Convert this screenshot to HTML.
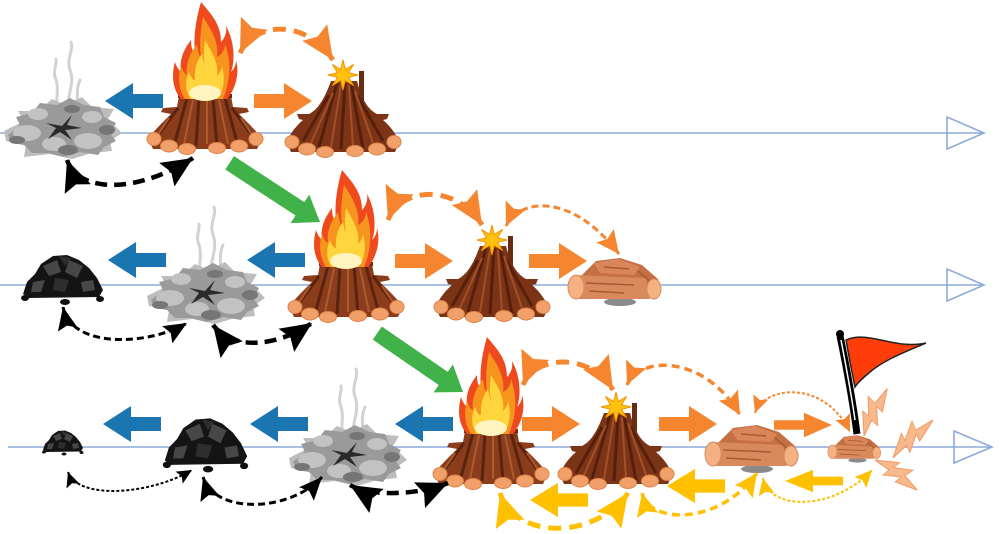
<!DOCTYPE html>
<html>
<head>
<meta charset="utf-8">
<style>
html,body{margin:0;padding:0;background:#fff;}
svg{display:block;}
</style>
</head>
<body>
<svg width="1000" height="534" viewBox="0 0 1000 534" xmlns="http://www.w3.org/2000/svg">
<defs>
  <path id="barrow" d="M0,0 L-28,-18 L-28,-7 L-58,-7 L-58,7 L-28,7 L-28,18 Z"/>
  <polygon id="bolt" points="0,0 20,-8 18,-3 34,-9 31,-3 48,0 27,4 29,-1 14,5 16,0"/>

  <marker id="mkL" markerUnits="userSpaceOnUse" markerWidth="32" markerHeight="28" viewBox="0 0 32 28" refX="31" refY="14" orient="auto-start-reverse">
    <path d="M0,0 L31,14 L0,28 L5,14 Z" fill="#000"/>
  </marker>
  <marker id="mkM" markerUnits="userSpaceOnUse" markerWidth="24" markerHeight="20" viewBox="0 0 24 20" refX="23" refY="10" orient="auto-start-reverse">
    <path d="M0,0 L23,10 L0,20 L4,10 Z" fill="#000"/>
  </marker>
  <marker id="mkS" markerUnits="userSpaceOnUse" markerWidth="16" markerHeight="14" viewBox="0 0 16 14" refX="15" refY="7" orient="auto-start-reverse">
    <path d="M0,0 L15,7 L0,14 L3,7 Z" fill="#000"/>
  </marker>
  <marker id="moL" markerUnits="userSpaceOnUse" markerWidth="34" markerHeight="30" viewBox="0 0 34 30" refX="33" refY="15" orient="auto-start-reverse">
    <path d="M0,0 L33,15 L0,30 L5,15 Z" fill="#f5862f"/>
  </marker>
  <marker id="moM" markerUnits="userSpaceOnUse" markerWidth="24" markerHeight="22" viewBox="0 0 24 22" refX="23" refY="11" orient="auto-start-reverse">
    <path d="M0,0 L23,11 L0,22 L4,11 Z" fill="#f5862f"/>
  </marker>
  <marker id="moS" markerUnits="userSpaceOnUse" markerWidth="18" markerHeight="16" viewBox="0 0 18 16" refX="17" refY="8" orient="auto-start-reverse">
    <path d="M0,0 L17,8 L0,16 L3,8 Z" fill="#f5862f"/>
  </marker>
  <marker id="myL" markerUnits="userSpaceOnUse" markerWidth="34" markerHeight="30" viewBox="0 0 34 30" refX="33" refY="15" orient="auto-start-reverse">
    <path d="M0,0 L33,15 L0,30 L5,15 Z" fill="#ffc000"/>
  </marker>
  <marker id="myM" markerUnits="userSpaceOnUse" markerWidth="24" markerHeight="22" viewBox="0 0 24 22" refX="23" refY="11" orient="auto-start-reverse">
    <path d="M0,0 L23,11 L0,22 L4,11 Z" fill="#ffc000"/>
  </marker>
  <marker id="myS" markerUnits="userSpaceOnUse" markerWidth="18" markerHeight="16" viewBox="0 0 18 16" refX="17" refY="8" orient="auto-start-reverse">
    <path d="M0,0 L17,8 L0,16 L3,8 Z" fill="#ffc000"/>
  </marker>

  <g id="logends" fill="#f2a06a" stroke="#dc8449" stroke-width="1">
    <ellipse cx="-51" cy="-13" rx="7" ry="6.5"/>
    <ellipse cx="-36" cy="-6" rx="8.5" ry="6"/>
    <ellipse cx="-18" cy="-3" rx="8.5" ry="5.5"/>
    <ellipse cx="12" cy="-4" rx="8.5" ry="5.5"/>
    <ellipse cx="34" cy="-6" rx="8.5" ry="6"/>
    <ellipse cx="51" cy="-13" rx="7" ry="6.5"/>
  </g>

  <g id="fire">
    <path d="M-26,-56 L26,-56 L28,-45 L42,-44 L44,-40 L34,-38 L46,-26 L57,-14 L52,-3 L-52,-3 L-57,-14 L-46,-26 L-34,-38 L-44,-40 L-42,-44 L-28,-45 Z" fill="#8a3c1b"/>
    <rect x="-27" y="-58" width="54" height="4" fill="#6b2b10"/>
    <g stroke="#5b230d" stroke-width="3" fill="none">
      <path d="M-18,-54 L-30,-10"/><path d="M-6,-54 L-9,-6"/><path d="M8,-54 L12,-6"/><path d="M20,-54 L32,-10"/>
      <path d="M-27,-44 L-46,-18"/><path d="M27,-44 L46,-18"/>
    </g>
    <g stroke="#ad5a2c" stroke-width="2" fill="none">
      <path d="M-12,-52 L-21,-8"/><path d="M2,-52 L2,-8"/><path d="M14,-52 L23,-8"/><path d="M-36,-34 L-48,-16"/><path d="M36,-34 L48,-16"/>
    </g>
    <use href="#logends"/>
    <path d="M-4,-150 C6,-138 16,-128 16,-110 C20,-114 22,-120 21,-126 C30,-110 30,-90 26,-80 C30,-84 31,-88 31,-92 C35,-78 30,-62 22,-53 L-24,-53 C-32,-62 -34,-76 -30,-90 C-28,-84 -26,-82 -24,-80 C-26,-94 -20,-104 -14,-112 C-14,-104 -12,-100 -10,-98 C-12,-118 -8,-136 -4,-150 Z" fill="#ee4a1e"/>
    <path d="M-2,-135 C8,-120 14,-108 12,-95 C18,-98 20,-104 20,-108 C26,-92 26,-72 18,-53 L-20,-53 C-27,-64 -27,-76 -24,-86 C-22,-80 -20,-78 -18,-77 C-20,-92 -12,-102 -8,-108 C-7,-100 -6,-96 -4,-94 C-6,-110 -4,-124 -2,-135 Z" fill="#f7941d"/>
    <path d="M0,-112 C8,-98 14,-88 12,-76 C16,-80 17,-84 17,-86 C21,-72 18,-60 12,-53 L-14,-53 C-20,-60 -20,-72 -16,-80 C-14,-74 -12,-72 -10,-72 C-11,-86 -6,-94 -3,-98 C-2,-92 -1,-88 0,-86 C-2,-96 -1,-104 0,-112 Z" fill="#ffd53e"/>
    <ellipse cx="0" cy="-59" rx="16" ry="8" fill="#fff3c0"/>
  </g>

  <g id="pile">
    <path d="M-12,-74 L14,-74 C18,-58 24,-46 34,-41 L46,-41 L44,-36 L40,-35 C48,-28 54,-20 56,-12 L52,-3 L-52,-3 L-56,-12 C-54,-20 -48,-28 -40,-35 L-44,-36 L-46,-41 L-34,-41 C-24,-46 -18,-58 -12,-74 Z" fill="#7c3417"/>
    <rect x="16" y="-84" width="5" height="36" fill="#6a2b10"/>
    <g stroke="#561f0a" stroke-width="3" fill="none">
      <path d="M-6,-72 L-24,-8"/><path d="M2,-72 L-2,-6"/><path d="M8,-72 L20,-6"/><path d="M-14,-60 L-40,-14"/><path d="M14,-60 L40,-14"/>
    </g>
    <g stroke="#a2502a" stroke-width="2" fill="none">
      <path d="M-2,-70 L-12,-8"/><path d="M6,-70 L10,-8"/><path d="M-10,-62 L-32,-12"/><path d="M12,-64 L30,-12"/>
    </g>
    <use href="#logends"/>
    <polygon points="0,-15 2.3,-5.5 10.6,-10.6 5.5,-2.3 15,0 5.5,2.3 10.6,10.6 2.3,5.5 0,15 -2.3,5.5 -10.6,10.6 -5.5,2.3 -15,0 -5.5,-2.3 -10.6,-10.6 -2.3,-5.5" transform="translate(0,-80)" fill="#ffc20e" stroke="#f39200" stroke-width="1"/>
  </g>

  <g id="ash">
    <g fill="none" stroke="#d2d2d2" stroke-width="3" stroke-linecap="round">
      <path d="M6,-36 C2,-55 14,-70 8,-85 C4,-97 12,-105 9,-113"/>
      <path d="M-3,-38 C-9,-52 -1,-64 -7,-78 C-9,-85 -5,-90 -6,-96"/>
      <path d="M13,-38 C19,-52 12,-62 18,-75"/>
    </g>
    <path d="M-58,-24 L-38,-34 L-44,-44 L-24,-44 L-10,-56 L4,-50 L20,-58 L30,-48 L52,-46 L46,-36 L60,-22 L48,-14 L50,-4 L30,-2 L10,4 L-12,-1 L-38,2 L-36,-10 L-56,-14 Z" fill="#bdbdbd"/>
    <path d="M-54,-20 L-42,-30 L-46,-38 L-30,-42 L-22,-52 L-5,-50 L8,-57 L22,-50 L38,-48 L42,-38 L54,-32 L48,-22 L54,-14 L42,-8 L36,0 L18,-3 L2,2 L-14,-2 L-30,-2 L-38,-10 L-50,-12 Z" fill="#9a9a9a"/>
    <g fill="#c2c2c2">
      <ellipse cx="-35" cy="-22" rx="14" ry="8"/><ellipse cx="26" cy="-14" rx="14" ry="8"/><ellipse cx="-8" cy="-11" rx="12" ry="7"/>
      <ellipse cx="30" cy="-38" rx="10" ry="6"/><ellipse cx="-24" cy="-41" rx="10" ry="6"/>
    </g>
    <g fill="#767676">
      <ellipse cx="6" cy="-5" rx="10" ry="5"/><ellipse cx="-45" cy="-15" rx="8" ry="4"/><ellipse cx="45" cy="-25" rx="8" ry="5"/><ellipse cx="10" cy="-46" rx="8" ry="4"/>
    </g>
    <path d="M-16,-32 L0,-29 L10,-40 L5,-30 L20,-27 L3,-25 L10,-15 L-2,-23 L-14,-16 L-6,-27 Z" fill="#2a2a2a"/>
  </g>

  <g id="coal">
    <path d="M-40,-6 L-36,-18 L-28,-26 L-22,-36 L-10,-44 L4,-45 L16,-40 L26,-32 L34,-22 L40,-10 L36,-3 L-34,-2 Z" fill="#141414"/>
    <g fill="#474747">
      <path d="M-20,-34 L-6,-40 L-2,-28 L-14,-24 Z"/><path d="M6,-40 L20,-34 L14,-22 L2,-28 Z"/>
      <path d="M-30,-18 L-18,-20 L-22,-8 L-32,-8 Z"/><path d="M18,-18 L30,-20 L32,-10 L20,-8 Z"/>
    </g>
    <g fill="#2e2e2e">
      <path d="M-8,-22 L6,-20 L2,-8 L-10,-10 Z"/><path d="M-4,-44 L8,-42 L2,-34 Z"/>
    </g>
    <ellipse cx="2" cy="2" rx="5" ry="3" fill="#111"/>
    <ellipse cx="37" cy="-1" rx="4" ry="3" fill="#111"/>
    <ellipse cx="-38" cy="-2" rx="4" ry="3" fill="#111"/>
  </g>

  <g id="wood">
    <ellipse cx="6" cy="-3" rx="16" ry="4" fill="#8a8a8a"/>
    <path d="M-34,-28 L-18,-44 L6,-47 L28,-40 L44,-26 L46,-12 L30,-6 L-30,-6 Z" fill="#c46f44"/>
    <path d="M-20,-42 L4,-46 L26,-38 L20,-30 L-14,-32 Z" fill="#d9875a"/>
    <path d="M-38,-30 L32,-27 L36,-6 L-38,-6 Z" fill="#d88a5e"/>
    <g stroke="#a85a32" stroke-width="1.5" fill="none">
      <path d="M-28,-22 L20,-20"/><path d="M-25,-14 L10,-12"/><path d="M-10,-38 L15,-36"/><path d="M24,-34 L38,-22"/>
    </g>
    <ellipse cx="-38" cy="-18" rx="8" ry="12" fill="#f4b183" stroke="#d98b5a" stroke-width="1"/>
    <ellipse cx="40" cy="-16" rx="7" ry="10" fill="#f4b183" stroke="#d98b5a" stroke-width="1"/>
  </g>
</defs>

<g stroke="#8eaadb" stroke-width="1.6" fill="none">
  <line x1="0" y1="133" x2="984" y2="133"/>
  <polygon points="947,117 984,133 947,149"/>
  <line x1="0" y1="285" x2="984" y2="285"/>
  <polygon points="947,269 984,285 947,301"/>
  <line x1="8" y1="447" x2="992" y2="447"/>
  <polygon points="954,431 992,447 954,463"/>
</g>

<!-- ROW 1 -->
<use href="#ash" transform="translate(62,155)"/>
<use href="#barrow" fill="#1b75b1" transform="translate(105,101) scale(-1,1)"/>
<use href="#fire" transform="translate(205,152)"/>
<use href="#barrow" fill="#f5862f" transform="translate(312,101)"/>
<use href="#pile" transform="translate(343,155)"/>

<!-- ROW 2 -->
<use href="#coal" transform="translate(63,300)"/>
<use href="#barrow" fill="#1b75b1" transform="translate(108,260) scale(-1,1)"/>
<use href="#ash" transform="translate(205,320)"/>
<use href="#barrow" fill="#1b75b1" transform="translate(247,260) scale(-1,1)"/>
<use href="#fire" transform="translate(346,320)"/>
<use href="#barrow" fill="#f5862f" transform="translate(453,261)"/>
<use href="#pile" transform="translate(492,320)"/>
<use href="#barrow" fill="#f5862f" transform="translate(587,261)"/>
<use href="#wood" transform="translate(614,305)"/>

<!-- ROW 3 -->
<use href="#coal" transform="translate(63,453) scale(0.5)"/>
<use href="#barrow" fill="#1b75b1" transform="translate(103,424) scale(-1,1)"/>
<use href="#coal" transform="translate(206,467) scale(1.03,1.08)"/>
<use href="#barrow" fill="#1b75b1" transform="translate(250,424) scale(-1,1)"/>
<use href="#ash" transform="translate(347,482)"/>
<use href="#barrow" fill="#1b75b1" transform="translate(395,424) scale(-1,1)"/>
<use href="#fire" transform="translate(491,487)"/>
<use href="#barrow" fill="#f5862f" transform="translate(580,424)"/>
<use href="#pile" transform="translate(616,487)"/>
<use href="#barrow" fill="#f5862f" transform="translate(717,424)"/>
<use href="#wood" transform="translate(751,472)"/>
<use href="#barrow" fill="#f5862f" transform="translate(832,425) scale(1,0.68)"/>
<use href="#wood" transform="translate(854,462) scale(0.57)"/>

<use href="#barrow" fill="#ffc000" transform="translate(530,500) scale(-1,0.95)"/>
<use href="#barrow" fill="#ffc000" transform="translate(667,486) scale(-1,0.95)"/>
<use href="#barrow" fill="#ffc000" transform="translate(785,481) scale(-1,0.62)"/>

<path d="M0,0 L-24,-17 L-24,-8 L-108,-8 L-108,8 L-24,8 L-24,17 Z" fill="#41b14a" transform="translate(320,222) rotate(33.2)"/>
<path d="M0,0 L-24,-17 L-24,-8 L-104,-8 L-104,8 L-24,8 L-24,17 Z" fill="#41b14a" transform="translate(463,392) rotate(34.5)"/>

<g fill="none" stroke="#000">
  <path d="M67,160 C80,195 140,192 193,158" stroke-width="4.5" stroke-dasharray="12 7" marker-start="url(#mkL)" marker-end="url(#mkL)"/>
  <path d="M63,307 C72,350 150,345 187,323" stroke-width="3" stroke-dasharray="7 4" marker-start="url(#mkM)" marker-end="url(#mkM)"/>
  <path d="M213,325 C232,350 275,348 312,323" stroke-width="4.5" stroke-dasharray="12 7" marker-start="url(#mkL)" marker-end="url(#mkL)"/>
  <path d="M68,472 C78,500 150,495 192,470" stroke-width="2" stroke-dasharray="3 2" marker-start="url(#mkS)" marker-end="url(#mkS)"/>
  <path d="M203,477 C215,515 290,512 322,477" stroke-width="3" stroke-dasharray="7 4" marker-start="url(#mkM)" marker-end="url(#mkM)"/>
  <path d="M350,485 C370,497 420,495 448,483" stroke-width="4.5" stroke-dasharray="12 7" marker-start="url(#mkL)" marker-end="url(#mkL)"/>
</g>

<g fill="none" stroke="#f5862f">
  <path d="M240,53 C255,22 305,18 333,60" stroke-width="5" stroke-dasharray="13 8" marker-start="url(#moL)" marker-end="url(#moL)"/>
  <path d="M388,220 C400,188 455,182 482,225" stroke-width="5" stroke-dasharray="13 8" marker-start="url(#moL)" marker-end="url(#moL)"/>
  <path d="M506,226 C518,200 570,190 619,254" stroke-width="3" stroke-dasharray="7 4" marker-start="url(#moM)" marker-end="url(#moM)"/>
  <path d="M523,385 C535,355 590,352 613,390" stroke-width="5" stroke-dasharray="13 8" marker-start="url(#moL)" marker-end="url(#moL)"/>
  <path d="M627,385 C640,355 705,355 740,415" stroke-width="3.5" stroke-dasharray="8 5" marker-start="url(#moM)" marker-end="url(#moM)"/>
  <path d="M755,413 C765,385 825,380 850,432" stroke-width="2" stroke-dasharray="3 2" marker-start="url(#moS)" marker-end="url(#moS)"/>
</g>

<g fill="none" stroke="#ffc000">
  <path d="M500,493 C515,540 595,540 628,493" stroke-width="5" stroke-dasharray="13 8" marker-start="url(#myL)" marker-end="url(#myL)"/>
  <path d="M642,493 C650,525 720,525 757,473" stroke-width="3.5" stroke-dasharray="8 5" marker-start="url(#myM)" marker-end="url(#myM)"/>
  <path d="M763,478 C770,512 835,510 872,470" stroke-width="2" stroke-dasharray="3 2" marker-start="url(#myS)" marker-end="url(#myS)"/>
</g>

<path d="M846,340 C868,330 895,350 926,343 C905,352 884,360 870,372 C864,377 858,382 855,387 L850,362 Z" fill="#ff3d0a" stroke="#222" stroke-width="1.5"/>
<path d="M840,336 C846,365 852,395 857,434" fill="none" stroke="#000" stroke-width="7"/>
<path d="M841,340 C846,366 851,392 855,420" fill="none" stroke="#fff" stroke-width="1.5"/>
<circle cx="840" cy="334" r="4" fill="#000"/>

<g fill="#f8b98d" stroke="#f29e6a" stroke-width="0.8">
  <use href="#bolt" transform="translate(864,436) rotate(-64) scale(1.1,1.5)"/>
  <use href="#bolt" transform="translate(893,458) rotate(-43.5) scale(1.15,1.5)"/>
  <use href="#bolt" transform="translate(875,460) rotate(35.5) scale(1.08,1.5)"/>
</g>
</svg>
</body>
</html>
